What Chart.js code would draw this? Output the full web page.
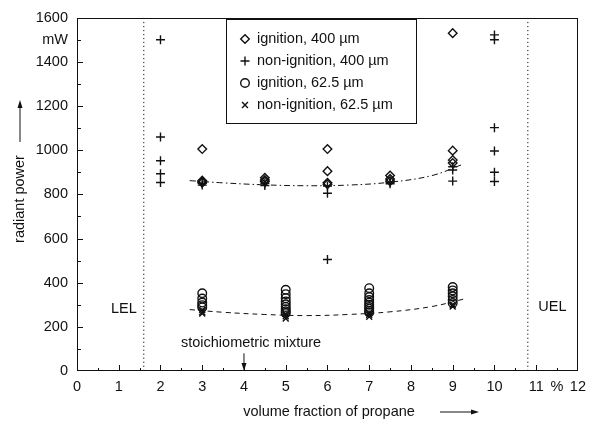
<!DOCTYPE html>
<html>
<head>
<meta charset="utf-8">
<script src="https://cdn.jsdelivr.net/npm/chart.js@4"></script>
<style>
  html, body { margin: 0; padding: 0; background: #fff; }
  canvas { display: block; }
</style>
</head>
<body>
<canvas id="grafico" width="593" height="423"></canvas>
<script>
// data
const xTicksLabelled = [0, 1, 2, 3, 4, 5, 6, 7, 8, 9, 10, 11, 12];
const yTicksLabelled = [0, 200, 400, 600, 800, 1000, 1200, 1400, 1600];

const ign400X = [3, 3, 3, 3, 4.5, 4.5, 4.5, 6, 6, 6, 6, 7.5, 7.5, 7.5, 9, 9, 9, 9];
const ign400Y = [1005, 862, 858, 853, 875, 865, 858, 1005, 905, 852, 846, 885, 870, 860, 1530, 998, 955, 942];

const nonIgn400X = [2, 2, 2, 2, 2, 3, 3, 4.5, 4.5, 6, 6, 6, 7.5, 7.5, 9, 9, 9, 10, 10, 10, 10, 10, 10];
const nonIgn400Y = [1500, 1060, 952, 893, 854, 850, 842, 850, 840, 838, 805, 505, 855, 848, 925, 910, 860, 1522, 1500, 1102, 996, 900, 858];

const ign62X = [3, 3, 3, 3, 3, 5, 5, 5, 5, 5, 5, 5, 5, 5, 7, 7, 7, 7, 7, 7, 7, 7, 7, 7, 9, 9, 9, 9, 9, 9];
const ign62Y = [352, 328, 310, 298, 288, 368, 348, 330, 315, 302, 290, 280, 270, 262, 375, 352, 335, 322, 310, 300, 290, 282, 272, 265, 380, 365, 352, 338, 322, 308];

const nonIgn62X = [3, 3, 3, 5, 5, 5, 7, 7, 7, 9, 9];
const nonIgn62Y = [276, 266, 260, 258, 248, 238, 262, 255, 246, 300, 292];

const upperFitX = [2.7, 3.5, 4.5, 5.5, 6.5, 7.5, 8.5, 9.2];
const upperFitY = [862, 852, 843, 839, 842, 855, 885, 933];
const lowerFitX = [2.7, 3.5, 4.5, 5.5, 6.5, 7.5, 8.5, 9.25];
const lowerFitY = [278, 266, 256, 251, 256, 268, 292, 325];

const LEL = 1.6;
const UEL = 10.8;
const stoich = 4;

const seriesLabels = ["ignition, 400 µm", "non-ignition, 400 µm", "ignition, 62.5 µm", "non-ignition, 62.5 µm"];

const FONT = "'Liberation Sans', Arial, Helvetica, sans-serif";
const INK = "#111";

function pontos(xs, ys) {
    return xs.map((x, i) => ({ x: x, y: ys[i] }));
}

function serie(label, xs, ys, estilo, raio) {
    return {
        label: label,
        data: pontos(xs, ys),
        pointStyle: estilo,
        pointRadius: raio,
        pointHoverRadius: raio,
        pointBorderWidth: 1.4,
        borderColor: INK,
        backgroundColor: "rgba(0,0,0,0)",
        showLine: false,
    };
}

function linha(xs, ys, dash) {
    return {
        label: "",
        data: pontos(xs, ys),
        showLine: true,
        pointRadius: 0,
        borderColor: INK,
        borderWidth: 1,
        borderDash: dash,
        tension: 0.4,
        fill: false,
    };
}

const datasets = [
    serie(seriesLabels[0], ign400X, ign400Y, "rectRot", 4.3),
    serie(seriesLabels[1], nonIgn400X, nonIgn400Y, "cross", 4.5),
    serie(seriesLabels[2], ign62X, ign62Y, "circle", 4.3),
    serie(seriesLabels[3], nonIgn62X, nonIgn62Y, "crossRot", 4.2),
    linha(upperFitX, upperFitY, [6, 3, 1.5, 3]),
    linha(lowerFitX, lowerFitY, [5, 4]),
    linha([LEL, LEL], [0, 1600], [1.2, 2.8]),
    linha([UEL, UEL], [0, 1600], [1.2, 2.8]),
];

function seta(ctx, x1, y1, x2, y2) {
    const ang = Math.atan2(y2 - y1, x2 - x1);
    ctx.beginPath();
    ctx.moveTo(x1, y1);
    ctx.lineTo(x2 - 6 * Math.cos(ang), y2 - 6 * Math.sin(ang));
    ctx.stroke();
    ctx.beginPath();
    ctx.moveTo(x2, y2);
    ctx.lineTo(x2 - 8 * Math.cos(ang) + 2.5 * Math.sin(ang), y2 - 8 * Math.sin(ang) - 2.5 * Math.cos(ang));
    ctx.lineTo(x2 - 8 * Math.cos(ang) - 2.5 * Math.sin(ang), y2 - 8 * Math.sin(ang) + 2.5 * Math.cos(ang));
    ctx.closePath();
    ctx.fill();
}

// frame, inward ticks, notes, arrows and the boxed legend
const extras = {
    id: "extras",
    afterDraw(chart) {
        const { ctx, chartArea: a } = chart;
        const sx = chart.scales.x, sy = chart.scales.y;
        ctx.save();
        ctx.strokeStyle = INK;
        ctx.fillStyle = INK;
        ctx.lineWidth = 1;
        ctx.setLineDash([]);

        ctx.strokeRect(Math.round(a.left) + 0.5, Math.round(a.top) + 0.5, Math.round(a.width) - 1, Math.round(a.height) - 1);

        ctx.beginPath();
        for (let v = 0.5; v < 12; v += 0.5) {
            const px = Math.round(sx.getPixelForValue(v)) + 0.5;
            const len = Number.isInteger(v) ? 6 : 3;
            ctx.moveTo(px, a.bottom);
            ctx.lineTo(px, a.bottom - len);
        }
        for (let v = 100; v < 1600; v += 100) {
            const py = Math.round(sy.getPixelForValue(v)) + 0.5;
            const len = v % 200 === 0 ? 6 : 4;
            ctx.moveTo(a.left, py);
            ctx.lineTo(a.left + len, py);
        }
        ctx.stroke();

        ctx.font = "14.5px " + FONT;
        ctx.textBaseline = "middle";
        ctx.textAlign = "right";
        ctx.fillText("LEL", sx.getPixelForValue(1.43), sy.getPixelForValue(280));
        ctx.textAlign = "left";
        ctx.fillText("UEL", sx.getPixelForValue(11.05), sy.getPixelForValue(290));
        ctx.textAlign = "center";
        ctx.fillText("stoichiometric mixture", sx.getPixelForValue(4.17), sy.getPixelForValue(128));
        const xs = sx.getPixelForValue(stoich);
        seta(ctx, xs, sy.getPixelForValue(80), xs, sy.getPixelForValue(0));

        // axis titles
        ctx.fillText("volume fraction of propane", 329, 412);
        seta(ctx, 440, 412, 479, 412);
        ctx.save();
        ctx.translate(20, 199);
        ctx.rotate(-Math.PI / 2);
        ctx.fillText("radiant power", 0, 0);
        ctx.restore();
        seta(ctx, 20, 142, 20, 100);

        // legend
        const bx = 226, by = 19, bw = 190, bh = 104;
        ctx.fillStyle = "#fff";
        ctx.fillRect(bx, by, bw, bh);
        ctx.strokeRect(bx + 0.5, by + 0.5, bw, bh);
        ctx.textAlign = "left";
        const rows = [39, 61, 83, 105];
        seriesLabels.forEach((txt, i) => {
            const ds = chart.data.datasets[i];
            ctx.fillStyle = "rgba(0,0,0,0)";
            ctx.strokeStyle = INK;
            ctx.lineWidth = 1.4;
            Chart.helpers.drawPoint(ctx, {
                pointStyle: ds.pointStyle,
                radius: ds.pointRadius,
                borderWidth: 1.4,
                rotation: 0,
            }, 245, rows[i]);
            ctx.fillStyle = INK;
            ctx.fillText(txt, 257, rows[i]);
        });
        ctx.restore();
    },
};

new Chart(document.getElementById("grafico"), {
    type: "scatter",
    data: { datasets: datasets },
    options: {
        responsive: false,
        animation: false,
        devicePixelRatio: 1,
        layout: { padding: { left: 0, right: 7, top: 15, bottom: 0 } },
        plugins: {
            legend: { display: false },
            tooltip: { enabled: false },
        },
        scales: {
            x: {
                type: "linear",
                min: 0,
                max: 12,
                grid: { display: false, drawTicks: false },
                border: { display: false },
                afterBuildTicks: (s) => {
                    s.ticks = xTicksLabelled.concat([11.5]).sort((a, b) => a - b).map((v) => ({ value: v }));
                },
                afterFit: (s) => { s.height = 52; },
                ticks: {
                    autoSkip: false,
                    maxRotation: 0,
                    padding: 7,
                    color: INK,
                    font: { family: FONT, size: 14.5 },
                    callback: (v) => (v === 11.5 ? "%" : String(v)),
                },
            },
            y: {
                min: 0,
                max: 1600,
                grid: { display: false, drawTicks: false },
                border: { display: false },
                afterBuildTicks: (s) => {
                    s.ticks = yTicksLabelled.concat([1500]).sort((a, b) => a - b).map((v) => ({ value: v }));
                },
                afterFit: (s) => { s.width = 77; },
                ticks: {
                    autoSkip: false,
                    padding: 9,
                    color: INK,
                    font: { family: FONT, size: 14.5 },
                    callback: (v) => (v === 1500 ? "mW" : String(v)),
                },
            },
        },
    },
    plugins: [extras],
});
</script>
</body>
</html>
